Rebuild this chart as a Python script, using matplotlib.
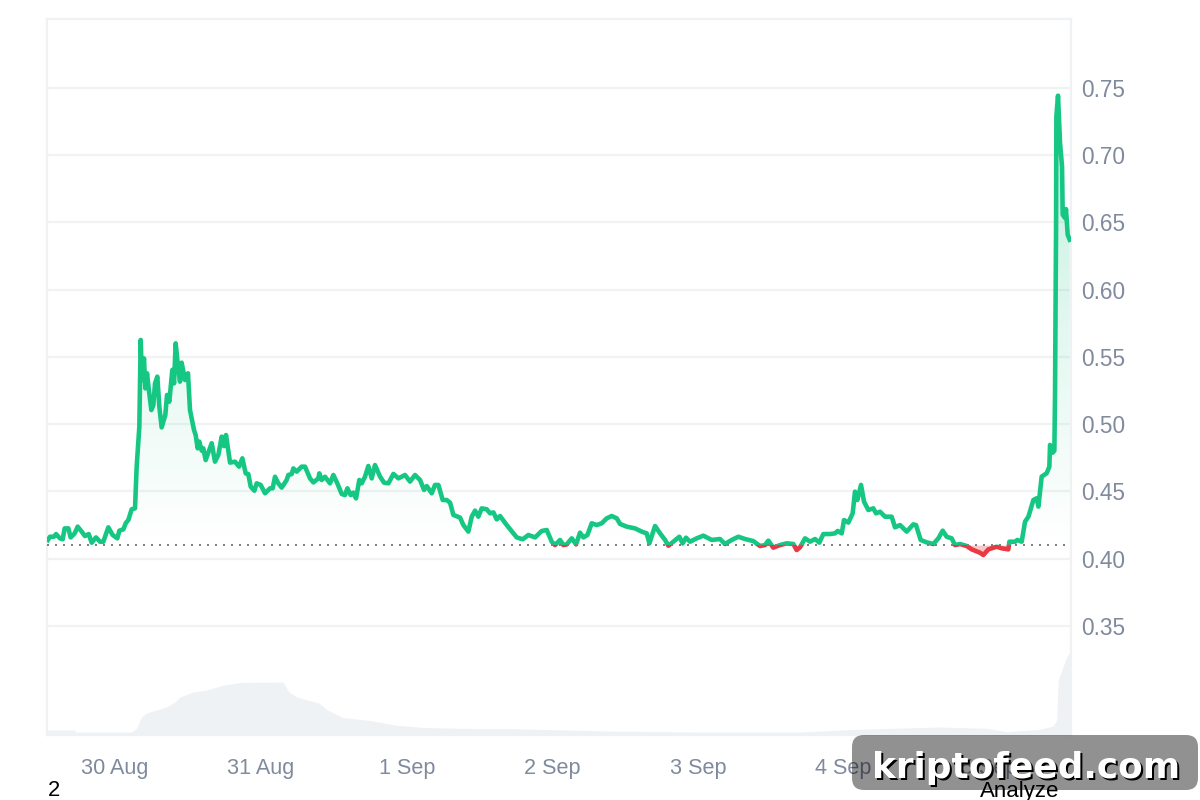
import numpy as np
import matplotlib
matplotlib.use("Agg")
import matplotlib.pyplot as plt
from matplotlib.patches import FancyBboxPatch, Polygon, Rectangle
from matplotlib.colors import LinearSegmentedColormap
from matplotlib.transforms import Affine2D

plt.rcParams['font.family'] = ['Liberation Sans', 'DejaVu Sans']

# hours since 29 Aug 13:00
hours = [0.16,0.49,1.15,1.48,2.13,2.57,2.90,3.50,3.88,4.54,5.03,5.69,6.23,6.84,7.33,8.04,8.70,9.24,10.06,10.77,
11.54,11.87,12.52,12.96,13.34,13.89,14.44,14.71,15.15,15.37,15.59,15.91,16.13,16.41,16.68,17.12,17.45,17.72,18.10,18.43,
18.81,19.41,19.69,20.07,20.56,20.84,21.11,21.44,21.82,22.09,22.64,23.13,23.46,24.12,24.39,24.72,24.99,25.38,25.65,26.03,
27.02,27.56,28.11,28.66,29.04,29.37,30.03,30.85,31.50,32.05,32.60,33.03,33.42,34.02,34.40,35.06,35.77,36.59,37.02,37.41,
37.95,38.50,39.32,39.59,40.14,40.42,40.96,41.78,42.33,43.15,43.70,44.52,44.68,45.07,45.61,46.43,46.98,47.63,48.35,48.89,
49.28,49.82,50.26,50.70,51.24,51.63,52.17,52.72,53.27,53.81,54.64,55.30,56.01,56.83,57.65,58.74,59.56,60.38,61.20,61.86,
62.30,63.12,63.66,64.21,64.92,65.58,66.13,66.67,67.77,68.31,69.13,69.68,70.23,70.77,71.32,72.14,72.69,73.24,73.78,74.33,
75.42,76.52,77.06,78.05,78.98,80.07,81.17,81.99,82.81,83.35,84.17,84.72,85.27,86.09,86.80,87.45,88.00,88.66,89.37,90.19,
91.01,91.83,92.65,93.47,94.02,95.11,96.48,97.57,98.39,98.83,99.76,100.58,101.40,101.95,102.76,103.74,104.29,104.84,105.49,106.59,
107.68,109.05,110.41,111.23,112.33,113.42,114.52,115.88,116.98,117.80,118.34,119.16,120.26,121.35,122.45,122.99,123.54,124.36,125.18,126.00,
126.71,127.37,128.46,129.28,129.72,130.38,130.76,131.47,132.18,132.56,132.95,133.55,134.04,134.75,135.57,136.01,136.67,137.49,138.58,139.13,
139.95,141.04,142.13,142.57,143.34,144.32,145.41,146.24,146.95,147.60,148.42,148.97,149.79,150.89,151.71,153.08,153.62,154.44,155.81,156.63,
157.72,157.89,158.82,159.20,159.91,160.46,161.01,161.83,162.37,162.65,163.19,164.01,164.45,164.56,165.00,165.27,165.38,165.55,165.60,165.87,
166.20,166.53,166.64,167.02,167.18,167.46,167.79]

prices = [.4138,.4162,.4162,.4182,.4150,.4143,.4224,.4224,.4157,.4187,.4237,.4200,.4167,.4182,.4118,.4157,.4125,.4125,.4232,.4175,
.4150,.4207,.4217,.4266,.4286,.4366,.4373,.4683,.4980,.5625,.5327,.5488,.5265,.5377,.5265,.5104,.5141,.5302,.5352,.5129,
.4975,.5067,.5216,.5166,.5402,.5302,.5600,.5451,.5315,.5456,.5327,.5377,.5104,.4955,.4918,.4819,.4869,.4802,.4819,.4732,
.4857,.4720,.4770,.4906,.4836,.4918,.4713,.4720,.4683,.4745,.4633,.4628,.4534,.4504,.4559,.4547,.4485,.4522,.4522,.4608,
.4559,.4527,.4584,.4621,.4628,.4670,.4646,.4683,.4683,.4596,.4566,.4596,.4633,.4584,.4608,.4559,.4621,.4559,.4480,.4472,
.4522,.4472,.4490,.4447,.4584,.4559,.4608,.4688,.4596,.4695,.4609,.4564,.4559,.4629,.4596,.4621,.4572,.4621,.4584,.4510,
.4539,.4485,.4547,.4547,.4435,.4435,.4415,.4324,.4304,.4249,.4200,.4311,.4356,.4311,.4373,.4366,.4336,.4343,.4291,.4316,
.4249,.4187,.4157,.4143,.4175,.4157,.4205,.4212,.4125,.4100,.4138,.4100,.4105,.4150,.4105,.4192,.4157,.4175,.4262,.4249,
.4262,.4299,.4316,.4299,.4257,.4237,.4224,.4200,.4187,.4113,.4242,.4187,.4138,.4095,.4125,.4162,.4113,.4155,.4125,.4150,
.4170,.4138,.4145,.4108,.4138,.4162,.4145,.4130,.4093,.4100,.4133,.4081,.4100,.4113,.4108,.4063,.4083,.4150,.4125,.4145,
.4118,.4182,.4182,.4187,.4205,.4187,.4286,.4267,.4336,.4497,.4435,.4547,.4423,.4361,.4373,.4336,.4348,.4311,.4311,.4232,
.4249,.4200,.4254,.4249,.4138,.4120,.4108,.4150,.4207,.4162,.4150,.4100,.4108,.4093,.4068,.4043,.4026,.4068,.4088,.4076,
.4068,.4125,.4125,.4138,.4125,.4274,.4311,.4435,.4448,.4386,.4609,.4634,.4683,.4844,.4787,.4802,.5229,.6469,.7287,.7441,
.7089,.6915,.6556,.6531,.6598,.6407,.6370]

baseline_price = 0.41

vol_hours = [0,4.5,4.7,13.9,14.7,15.5,16.3,17.4,19.6,21,21.8,24,26.2,29,31.7,38.7,39.7,41,42.7,44.6,46,
48.5,53,57,61.8,69.4,75,92,107,123.5,132.8,146.5,149.2,154.2,157.4,162.9,165.1,165.65,165.9,166.5,167.3,168]
vol_values = [5,5,3,3,6.7,18,22,24,28,33,38,43,45,50,52.5,53,43,38,35,32,25,
17.5,14.5,10,7.5,6.5,6.5,4,3,3,5.7,8,7.5,6.7,3.3,5.7,9,15,55,65,78,85]

price_ticks = [0.35,0.40,0.45,0.50,0.55,0.60,0.65,0.70,0.75]
date_hours = [11.05,35.1,59.05,82.85,106.8,130.7,154.6]
date_labels = ['30 Aug','31 Aug','1 Sep','2 Sep','3 Sep','4 Sep','5 Sep']

GREEN = '#16c784'
RED = '#ea3943'
BORDER = '#eff2f5'
GRID = '#f1f2f4'
LABEL = '#808a9d'

W, H = 1200, 800
fig = plt.figure(figsize=(12, 8), dpi=100, facecolor='white')
ax_vol = fig.add_axes([47/W, (H-735)/H, 1024/W, 716/H])
ax = fig.add_axes(ax_vol.get_position(), frameon=False)
ax.set_zorder(2)
ax_vol.set_zorder(1)

x = np.array(hours)
y = np.array(prices)

# volume
ax_vol.fill_between(vol_hours, vol_values, 0, color=BORDER, lw=0)
ax_vol.set_xlim(0, 168)
ax_vol.set_ylim(0, 716)
ax_vol.set_xticks([])
ax_vol.set_yticks([])
for s in ax_vol.spines.values():
    s.set_color(BORDER)
    s.set_linewidth(1.6)

ymin, ymax = 0.2688, 0.8011
ax.set_xlim(0, 168)
ax.set_ylim(ymin, ymax)
for s in ax.spines.values():
    s.set_visible(False)

for t in price_ticks:
    ax.axhline(t, color=GRID, lw=1.6, zorder=1)

# gradient fills
above = np.maximum(y, baseline_price)
below = np.minimum(y, baseline_price)
top = y.max()
cm_g = LinearSegmentedColormap.from_list('g', [(0.086, 0.78, 0.518, 0.0), (0.086, 0.78, 0.518, 0.26)])
grad = np.linspace(1, 0, 256).reshape(-1, 1)
im = ax.imshow(grad, extent=[0, 168, baseline_price, top], aspect='auto', cmap=cm_g, zorder=2,
               vmin=0, vmax=1, interpolation='bilinear')
poly = Polygon(np.column_stack([np.r_[x[0], x, x[-1]], np.r_[baseline_price, above, baseline_price]]),
               transform=ax.transData, closed=True)
im.set_clip_path(poly)
ax.fill_between(x, below, baseline_price, color=RED, alpha=0.28, lw=0, zorder=2)
ax.set_xlim(0, 168)
ax.set_ylim(ymin, ymax)

# line, green above and red below the start price
red_line, = ax.plot(x, y, color=RED, lw=3.3, solid_joinstyle='round', zorder=3)
red_line.set_clip_path(Rectangle((0, ymin), 168, baseline_price - ymin, transform=ax.transData))
green_line, = ax.plot(x, y, color=GREEN, lw=3.3, solid_joinstyle='round', zorder=4)
green_line.set_clip_path(Rectangle((0, baseline_price), 168, ymax - baseline_price, transform=ax.transData))

ax.plot([0, 167], [baseline_price, baseline_price], color='#808080', lw=1.44,
        linestyle=(0, (1, 3)), dash_capstyle='butt', zorder=5)

ax.yaxis.tick_right()
ax.set_yticks(price_ticks)
ax.set_yticklabels([f'{t:.2f}' for t in price_ticks], fontsize=16.3, color=LABEL)
ax.set_xticks(date_hours)
ax.set_xticklabels(date_labels, fontsize=15.6, color=LABEL)
ax.tick_params(axis='both', length=0)
ax.tick_params(axis='y', pad=7.5)
ax.tick_params(axis='x', pad=16.7)

# footer text
px = Affine2D().scale(1, -1).translate(0, H)
fig.text(47.5, 791, '2', transform=px, fontsize=15.8, color='black', ha='left', va='center')
fig.text(980, 791, 'Analyze', transform=px, fontsize=16, color='black', ha='left', va='center')

# watermark
box = FancyBboxPatch((862, 745), 326, 35, boxstyle='round,pad=0,rounding_size=0', transform=px,
                     facecolor=(0, 0, 0, 0.43), edgecolor='none', zorder=10)
box.set_boxstyle('round,pad=10,rounding_size=12')
fig.add_artist(box)
fig.text(1028, 770, 'kriptofeed.com', transform=px, fontsize=25.8, fontweight='bold', family='DejaVu Sans',
         color='black', ha='center', va='center', zorder=11)
fig.text(1026, 768, 'kriptofeed.com', transform=px, fontsize=25.8, fontweight='bold', family='DejaVu Sans',
         color='white', ha='center', va='center', zorder=12)

fig.savefig('out.png', dpi=100)
